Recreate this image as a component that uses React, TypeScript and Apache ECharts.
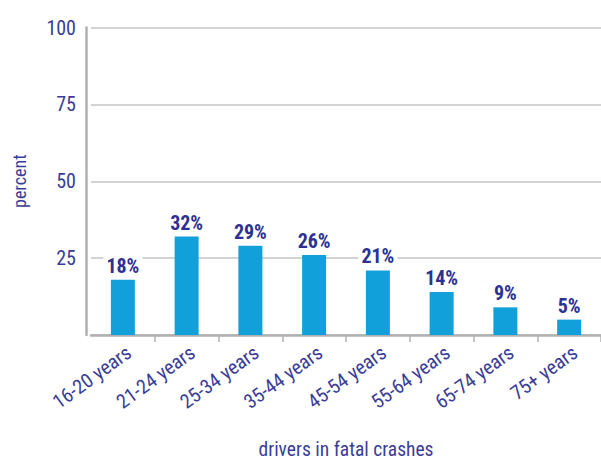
import React, { useEffect, useRef } from "react";
import * as echarts from "echarts";

const categories = [
  "16-20 years",
  "21-24 years",
  "25-34 years",
  "35-44 years",
  "45-54 years",
  "55-64 years",
  "65-74 years",
  "75+ years",
];
const values = [18, 32, 29, 26, 21, 14, 9, 5];
const yTicks = [0, 25, 50, 75, 100];

const NAVY = "#2e3192";
const LABEL = "#3a3d98";
const FONT = "'Roboto Condensed', 'Liberation Sans Narrow', 'Roboto', sans-serif";

export default function App() {
  const ref = useRef<HTMLDivElement>(null);
  useEffect(() => {
    if (!ref.current) return;
    const chart = echarts.init(ref.current, undefined, { renderer: "svg" });
    chart.setOption({
      animation: false,
      backgroundColor: "#ffffff",
      grid: { left: 91, width: 520, top: 27.5, height: 311.5, containLabel: false },
      xAxis: {
        type: "category",
        data: categories,
        axisLine: { show: true, lineStyle: { color: "#b0b0b0", width: 2.5 } },
        axisTick: {
          show: true,
          length: 7,
          lineStyle: { color: "#b0b0b0", width: 1.5 },
          interval: (i: number) => i !== 0,
        },
        axisLabel: {
          rotate: 36,
          margin: 7,
          align: "right",
          verticalAlign: "top",
          color: LABEL,
          fontFamily: FONT,
          fontSize: 20,
        },
        name: "drivers in fatal crashes",
        nameLocation: "middle",
        nameGap: 104,
        nameTextStyle: { color: LABEL, fontFamily: FONT, fontSize: 19.5 },
      },
      yAxis: {
        type: "value",
        min: yTicks[0],
        max: yTicks[yTicks.length - 1],
        interval: 25,
        offset: 5,
        axisLine: { show: true, lineStyle: { color: "#b0b0b0", width: 2.5 } },
        axisTick: { show: false },
        splitLine: { show: true, lineStyle: { color: "#c4c4c4", width: 1.5 } },
        axisLabel: {
          margin: 10,
          color: LABEL,
          fontFamily: FONT,
          fontSize: 20,
          formatter: (v: number) => (v === 0 ? "" : String(v)),
        },
        name: "percent",
        nameLocation: "middle",
        nameRotate: 90,
        nameGap: 58,
        nameTextStyle: { color: LABEL, fontFamily: FONT, fontSize: 18 },
      },
      series: [
        {
          type: "bar",
          data: values,
          barWidth: 24,
          itemStyle: { color: "#12a0da" },
          label: {
            show: true,
            position: "top",
            distance: 4,
            formatter: "{c}%",
            color: NAVY,
            fontFamily: FONT,
            fontWeight: "bold",
            fontSize: 20,
            backgroundColor: "#ffffff",
            padding: [0, 3],
          },
        },
      ],
    });
    return () => chart.dispose();
  }, []);
  return (
    <div
      ref={ref}
      style={{ position: "fixed", left: 0, top: 0, width: 601, height: 464 }}
    />
  );
}
